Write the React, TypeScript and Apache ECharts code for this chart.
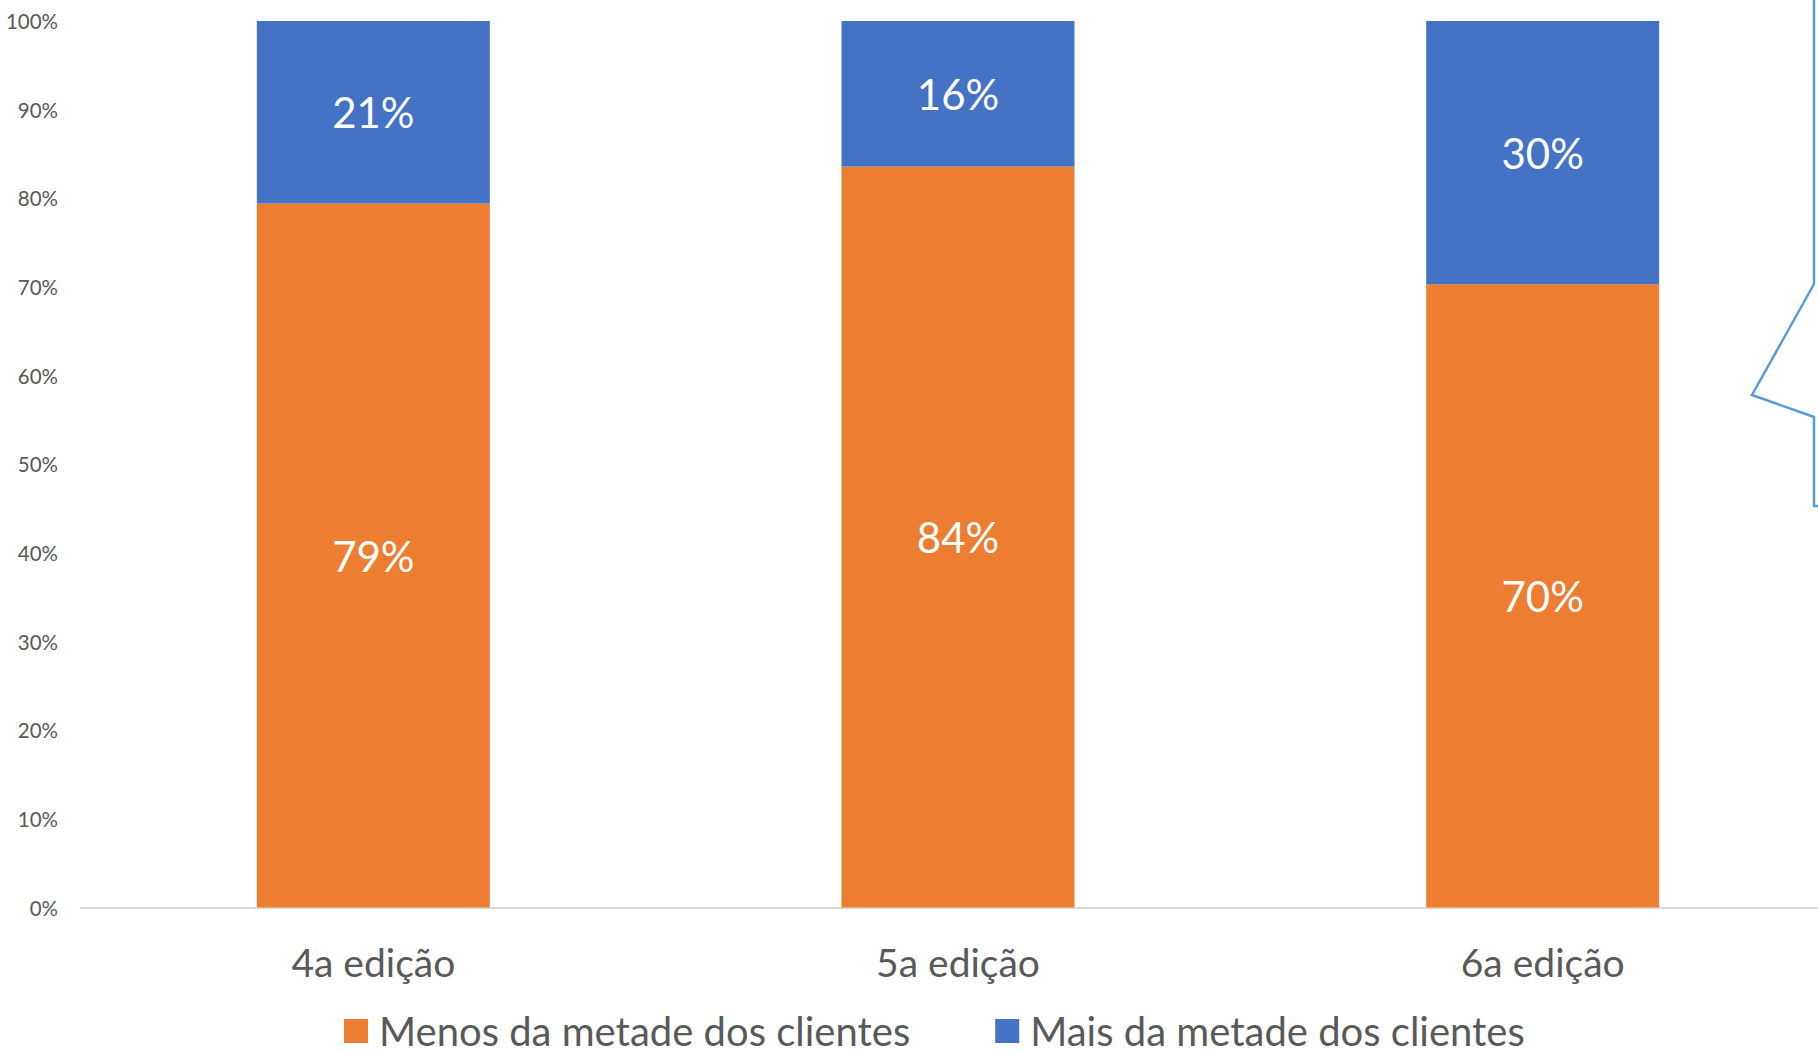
import React, { useEffect, useRef } from "react";
import * as echarts from "echarts";

const categories = ["4a edição", "5a edição", "6a edição"];
const menosValues = [79.4, 83.6, 70.3];
const maisValues = [20.6, 16.4, 29.7];
const seriesNames = ["Menos da metade dos clientes", "Mais da metade dos clientes"];
const yTicks = { min: 0, max: 100, interval: 10 };

const FONT = "Lato";
const GREY = "#595959";

const pct = (p: any) => Math.round(p.value) + "%";

export default function App() {
  const ref = useRef<HTMLDivElement>(null);
  useEffect(() => {
    if (!ref.current) return;
    const chart = echarts.init(ref.current, undefined, { renderer: "svg" });
    const option: any = {
      animation: false,
      backgroundColor: "#ffffff",
      textStyle: { fontFamily: FONT },
      grid: { left: 81, top: 21, width: 1754, height: 886.5, containLabel: false },
      legend: {
        data: seriesNames,
        left: 344,
        top: 1011,
        icon: "rect",
        itemWidth: 24,
        itemHeight: 24,
        itemGap: 85,
        padding: 0,
        textStyle: { fontFamily: FONT, fontSize: 40, lineHeight: 36, color: GREY, padding: [0, 0, 0, 6] },
      },
      xAxis: {
        type: "category",
        data: categories,
        axisLine: { show: true, lineStyle: { color: "#D9D9D9", width: 2 } },
        axisTick: { show: false },
        axisLabel: { fontFamily: FONT, fontSize: 39, color: GREY, margin: 35 },
      },
      yAxis: {
        type: "value",
        min: yTicks.min,
        max: yTicks.max,
        interval: yTicks.interval,
        axisLine: { show: false },
        axisTick: { show: false },
        splitLine: { show: false },
        axisLabel: { fontFamily: FONT, fontSize: 20.5, color: GREY, margin: 23, formatter: "{value}%" },
      },
      series: [
        {
          name: seriesNames[0],
          type: "bar",
          stack: "total",
          barWidth: 233,
          data: menosValues,
          itemStyle: { color: "#ED7D31" },
          label: { show: true, position: "inside", color: "#ffffff", fontFamily: FONT, fontSize: 42, formatter: pct },
        },
        {
          name: seriesNames[1],
          type: "bar",
          stack: "total",
          barWidth: 233,
          data: maisValues,
          itemStyle: { color: "#4472C4" },
          label: { show: true, position: "inside", color: "#ffffff", fontFamily: FONT, fontSize: 42, formatter: pct },
        },
      ],
      graphic: [
        {
          type: "polyline",
          shape: { points: [[1814, -5], [1814, 284], [1752, 395], [1814, 417], [1814, 506], [1840, 506]] },
          style: { stroke: "#5B9BD5", lineWidth: 2.5, fill: "none" },
          silent: true,
        },
      ],
    };
    chart.setOption(option);
    return () => chart.dispose();
  }, []);
  return (
    <div style={{ position: "absolute", left: 0, top: 0, width: 1818, height: 1054, overflow: "hidden", background: "#fff" }}>
      <div ref={ref} style={{ width: 1850, height: 1054 }} />
    </div>
  );
}
